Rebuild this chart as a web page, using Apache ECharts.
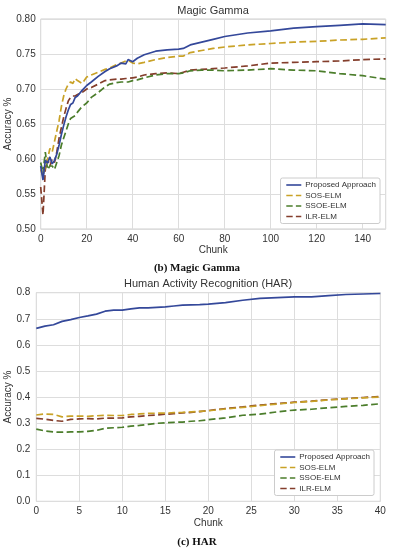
<!DOCTYPE html>
<html>
<head>
<meta charset="utf-8">
<script src="https://cdn.jsdelivr.net/npm/echarts@6/dist/echarts.min.js"></script>
<style>html,body{margin:0;padding:0;background:#fff}#c{width:394px;height:550px}</style>
</head>
<body>
<div id="c"></div>
<script>
// ---- Magic Gamma ----
var mgChunks = [0,1,2,3,4,5,6,7,8,9,10,11,12,13,14,15,16,18,20,22,25,28,30,33,35,37,38,40,42,45,50,55,60,62,65,70,75,80,90,100,110,120,130,140,150];
var mgProposed = [0.590,0.570,0.598,0.594,0.603,0.593,0.598,0.607,0.620,0.635,0.648,0.660,0.670,0.678,0.680,0.688,0.690,0.698,0.705,0.710,0.718,0.725,0.729,0.733,0.737,0.736,0.742,0.739,0.744,0.749,0.754,0.756,0.757,0.758,0.763,0.767,0.771,0.775,0.780,0.783,0.787,0.789,0.791,0.793,0.792];
var mgSOS = [0.585,0.575,0.590,0.600,0.615,0.610,0.625,0.640,0.655,0.675,0.690,0.700,0.707,0.710,0.708,0.715,0.712,0.708,0.717,0.720,0.724,0.728,0.730,0.735,0.737,0.740,0.741,0.737,0.736,0.738,0.742,0.745,0.747,0.747,0.752,0.755,0.758,0.760,0.763,0.765,0.767,0.768,0.770,0.771,0.773];
var mgSSOE = [0.595,0.580,0.610,0.585,0.590,0.590,0.585,0.595,0.605,0.620,0.630,0.640,0.650,0.658,0.660,0.662,0.667,0.675,0.680,0.688,0.695,0.703,0.707,0.709,0.710,0.710,0.710,0.712,0.713,0.716,0.720,0.722,0.722,0.723,0.726,0.727,0.727,0.726,0.727,0.729,0.727,0.726,0.722,0.719,0.714];
var mgILR = [0.560,0.520,0.585,0.600,0.590,0.600,0.595,0.610,0.630,0.645,0.660,0.672,0.683,0.688,0.690,0.690,0.692,0.695,0.700,0.702,0.707,0.712,0.713,0.714,0.714,0.715,0.715,0.716,0.717,0.720,0.722,0.723,0.722,0.724,0.727,0.728,0.729,0.730,0.733,0.737,0.738,0.739,0.740,0.742,0.743];
var mgYTicks = ['0.50','0.55','0.60','0.65','0.70','0.75','0.80'];
var mgXTicks = ['0','20','40','60','80','100','120','140'];

// ---- HAR ----
var harChunks = [0,1,2,3,4,5,6,7,8,9,10,11,12,13,14,15,16,17,18,19,20,22,24,26,28,30,32,34,36,38,40];
var harProposed = [0.663,0.672,0.677,0.690,0.697,0.705,0.711,0.718,0.729,0.733,0.733,0.738,0.742,0.742,0.744,0.746,0.749,0.752,0.753,0.754,0.756,0.762,0.771,0.778,0.781,0.784,0.784,0.789,0.793,0.795,0.797];
var harSOS = [0.331,0.335,0.333,0.324,0.327,0.327,0.326,0.328,0.330,0.329,0.329,0.333,0.335,0.337,0.338,0.338,0.340,0.341,0.343,0.345,0.347,0.354,0.360,0.367,0.373,0.379,0.383,0.389,0.393,0.397,0.400];
var harSSOE = [0.277,0.270,0.266,0.265,0.266,0.266,0.268,0.272,0.280,0.282,0.284,0.288,0.291,0.295,0.299,0.301,0.303,0.304,0.307,0.309,0.313,0.320,0.330,0.334,0.343,0.350,0.353,0.359,0.364,0.368,0.374];
var harILR = [0.318,0.315,0.310,0.307,0.314,0.316,0.317,0.316,0.319,0.319,0.320,0.324,0.326,0.329,0.331,0.334,0.336,0.339,0.341,0.344,0.348,0.356,0.362,0.369,0.375,0.380,0.384,0.390,0.394,0.398,0.402];
var harYTicks = ['0.0','0.1','0.2','0.3','0.4','0.5','0.6','0.7','0.8'];
var harXTicks = ['0','5','10','15','20','25','30','35','40'];

var seriesNames = ['Proposed Approach','SOS-ELM','SSOE-ELM','ILR-ELM'];
var colors = ['#34489a','#c9a227','#4b7d2b','#843e2c'];
var dashes = ['solid','dashed','dashed','dashed'];

function pairs(xs, ys){ return xs.map(function(x,i){ return [x, ys[i]]; }); }

var FONT = '"Liberation Sans", Arial, sans-serif';
var SERIF = '"Liberation Serif", serif';
var TXT = '#333333';

function mkSeries(xs, list, idx){
  return list.map(function(ys, k){
    return {
      name: seriesNames[k], type: 'line', xAxisIndex: idx, yAxisIndex: idx,
      data: pairs(xs, ys), showSymbol: false, symbol: 'none',
      lineStyle: { color: colors[k], width: 1.7, type: dashes[k] },
      itemStyle: { color: colors[k] },
      z: 10 - k, silent: true, animation: false
    };
  });
}

var axisCommon = {
  axisTick: { show: false },
  axisLine: { show: false },
  nameMoveOverlap: false,
  splitLine: { show: true, lineStyle: { color: '#dddddd', width: 1 } },
  axisLabel: { color: TXT, fontSize: 10, fontFamily: FONT },
  nameTextStyle: { color: TXT, fontSize: 10, fontFamily: FONT }
};
function ax(extra){ return Object.assign({}, JSON.parse(JSON.stringify(axisCommon)), extra); }

function mkLegend(right, top){
  return { data: seriesNames, right: right, top: top, orient: 'vertical', itemGap: 2.5, itemWidth: 15, itemHeight: 8,
    backgroundColor: '#ffffff', borderColor: '#cccccc', borderWidth: 1, borderRadius: 2, padding: [3, 4, 3, 5],
    itemStyle: { opacity: 0 },
    lineStyle: { width: 1.6 },
    textStyle: { fontSize: 8, color: TXT, fontFamily: FONT, padding: [0, 0, 0, -1] }, selectedMode: false };
}

function caption(letter, rest, top){
  return { text: '{n|(}{b|' + letter + '}{n|) ' + rest + '}', left: 197, top: top, textAlign: 'center', padding: 0,
    textStyle: { rich: { n: { fontFamily: SERIF, fontSize: 11, color: '#111' },
                         b: { fontFamily: SERIF, fontSize: 11, fontWeight: 'bold', color: '#111' } } } };
}

var chart = echarts.init(document.getElementById('c'), null, { renderer: 'canvas' });
var option = {
  backgroundColor: '#ffffff',
  animation: false,
  title: [
    { text: 'Magic Gamma', left: 213, top: 5.5, textAlign: 'center', padding: 0,
      textStyle: { fontSize: 11, fontWeight: 'normal', color: TXT, fontFamily: FONT } },
    caption('b', 'Magic Gamma', 262.5),
    { text: 'Human Activity Recognition (HAR)', left: 208, top: 278.5, textAlign: 'center', padding: 0,
      textStyle: { fontSize: 11, fontWeight: 'normal', color: TXT, fontFamily: FONT } },
    caption('c', 'HAR', 536.5)
  ],
  grid: [
    { left: 40.7, top: 19, width: 345, height: 210, show: true, borderColor: '#cfcfcf', borderWidth: 1,
      backgroundColor: 'transparent', outerBoundsMode: 'none', containLabel: false },
    { left: 36.3, top: 292.7, width: 344, height: 208.6, show: true, borderColor: '#cfcfcf', borderWidth: 1,
      backgroundColor: 'transparent', outerBoundsMode: 'none', containLabel: false }
  ],
  legend: [ mkLegend(14, 178), mkLegend(20, 450) ],
  xAxis: [
    ax({ type: 'value', gridIndex: 0, min: 0, max: 150, interval: 20, name: 'Chunk', nameLocation: 'middle', nameGap: 16.5,
         axisLabel: { color: TXT, fontSize: 10, fontFamily: FONT, showMaxLabel: false, margin: 5,
                      formatter: function(v){ var i = mgXTicks.indexOf(String(v)); return i >= 0 ? mgXTicks[i] : ''; } } }),
    ax({ type: 'value', gridIndex: 1, min: 0, max: 40, interval: 5, name: 'Chunk', nameLocation: 'middle', nameGap: 16.5,
         axisLabel: { color: TXT, fontSize: 10, fontFamily: FONT, margin: 5,
                      formatter: function(v){ var i = harXTicks.indexOf(String(v)); return i >= 0 ? harXTicks[i] : ''; } } })
  ],
  yAxis: [
    ax({ type: 'value', gridIndex: 0, min: 0.5, max: 0.8, interval: 0.05, name: 'Accuracy %', nameLocation: 'middle', nameGap: 27,
         axisLabel: { color: TXT, fontSize: 10, fontFamily: FONT, margin: 5,
                      formatter: function(v){ return mgYTicks[Math.round((v - 0.5) / 0.05)]; } } }),
    ax({ type: 'value', gridIndex: 1, min: 0, max: 0.8, interval: 0.1, name: 'Accuracy %', nameLocation: 'middle', nameGap: 23,
         axisLabel: { color: TXT, fontSize: 10, fontFamily: FONT, margin: 6,
                      formatter: function(v){ return harYTicks[Math.round(v / 0.1)]; } } })
  ],
  series: mkSeries(mgChunks, [mgProposed, mgSOS, mgSSOE, mgILR], 0)
    .concat(mkSeries(harChunks, [harProposed, harSOS, harSSOE, harILR], 1))
};
chart.setOption(option);
</script>
</body>
</html>
